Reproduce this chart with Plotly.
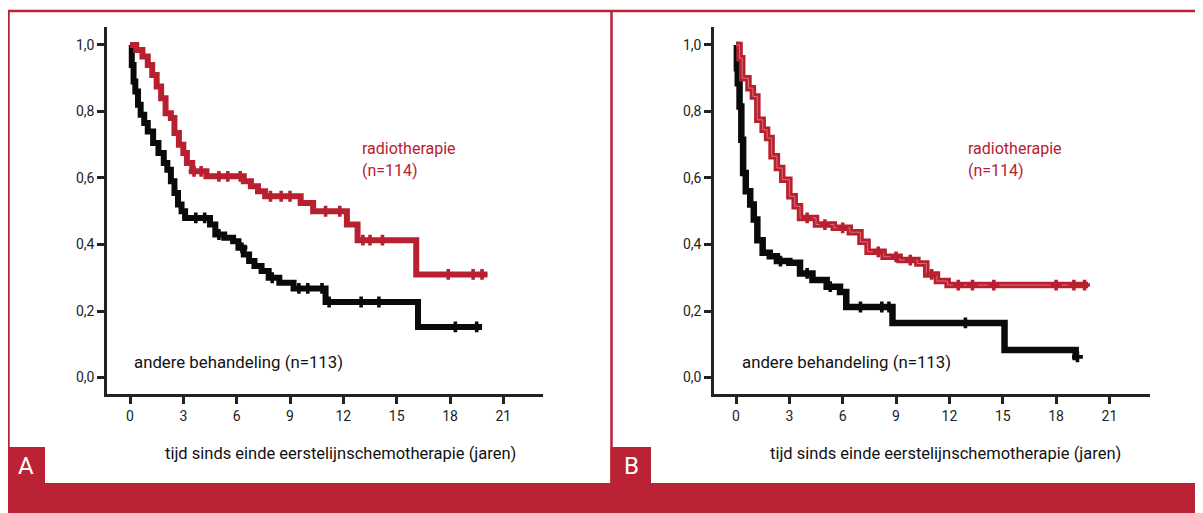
import plotly.graph_objects as go

# ---------------- data ----------------
# Panel A
a_radio_t = [0, 0.35, 0.7, 1.0, 1.25, 1.5, 1.75, 2.0, 2.3, 2.5, 2.75, 3.0, 3.2, 3.5, 4.3, 6.4, 6.8, 7.2, 7.6, 9.6, 10.3, 12.2, 12.8, 16.1]
a_radio_s = [1.0, 0.985, 0.965, 0.94, 0.91, 0.875, 0.84, 0.795, 0.78, 0.735, 0.70, 0.675, 0.645, 0.62, 0.605, 0.59, 0.575, 0.56, 0.545, 0.525, 0.50, 0.46, 0.413, 0.31]
a_radio_end = 20.1
a_radio_cens = [3.6, 4.0, 5.0, 5.5, 6.2, 7.9, 8.5, 9.0, 11.0, 11.8, 13.1, 13.5, 14.2, 17.9, 19.3, 19.8]

a_other_t = [0, 0.1, 0.2, 0.3, 0.45, 0.6, 0.8, 1.0, 1.3, 1.6, 1.9, 2.1, 2.3, 2.5, 2.7, 2.9, 3.1, 4.5, 4.8, 5.3, 5.8, 6.1, 6.4, 6.7, 7.0, 7.4, 7.8, 8.4, 9.2, 11.0, 16.2]
a_other_s = [1.0, 0.94, 0.89, 0.86, 0.82, 0.79, 0.765, 0.74, 0.705, 0.675, 0.645, 0.625, 0.59, 0.555, 0.52, 0.50, 0.48, 0.46, 0.43, 0.42, 0.41, 0.39, 0.37, 0.35, 0.335, 0.32, 0.30, 0.285, 0.268, 0.227, 0.152]
a_other_end = 19.8
a_other_cens = [3.7, 4.2, 5.0, 6.3, 8.0, 9.5, 10.0, 10.8, 11.2, 13.0, 14.0, 18.3, 19.5]

# Panel B
b_radio_t = [0, 0.2, 0.35, 0.7, 0.95, 1.2, 1.5, 1.75, 2.0, 2.3, 2.6, 3.0, 3.3, 3.6, 4.5, 5.5, 6.4, 7.0, 7.4, 8.3, 9.2, 10.2, 10.7, 11.3, 11.9]
b_radio_s = [1.0, 0.96, 0.90, 0.87, 0.845, 0.775, 0.745, 0.72, 0.665, 0.63, 0.595, 0.545, 0.515, 0.48, 0.46, 0.45, 0.437, 0.408, 0.378, 0.363, 0.353, 0.343, 0.31, 0.29, 0.278]
b_radio_end = 19.8
b_radio_cens = [4.0, 5.0, 6.0, 8.0, 9.0, 9.8, 11.0, 12.5, 13.3, 14.5, 18.0, 19.0, 19.6]

b_other_t = [0, 0.05, 0.1, 0.2, 0.3, 0.4, 0.55, 0.8, 1.0, 1.2, 1.5, 1.9, 2.3, 3.0, 3.6, 4.3, 5.1, 5.85, 6.2, 8.8, 15.1, 19.1]
b_other_s = [1.0, 0.93, 0.885, 0.815, 0.715, 0.615, 0.56, 0.52, 0.475, 0.413, 0.375, 0.365, 0.35, 0.345, 0.313, 0.293, 0.273, 0.257, 0.212, 0.164, 0.083, 0.062]
b_other_end = 19.2
b_other_cens = [2.5, 4.0, 5.3, 7.0, 8.2, 8.6, 12.9, 19.2]

y_ticks = [0.0, 0.2, 0.4, 0.6, 0.8, 1.0]
y_labels = ["0,0", "0,2", "0,4", "0,6", "0,8", "1,0"]
x_ticks = [0, 3, 6, 9, 12, 15, 18, 21]
x_labels = ["0", "3", "6", "9", "12", "15", "18", "21"]

label_radio = ["radiotherapie", "(n=114)"]
label_other = "andere behandeling (n=113)"
x_title = "tijd sinds einde eerstelijnschemotherapie (jaren)"
panel_letters = ["A", "B"]

# ---------------- style ----------------
RED = "#BB2235"
CURVE_RED = "#B8202F"
BLACK = "#0a0a0a"
AX = "#222222"
FONT = "Roboto, sans-serif"
W, H = 1203, 513
OFF = 8  # page body margin offset


def px(x):
    return (x - OFF) / W


def py(y):
    return 1 - (y - OFF) / H


def step_at(ts, ss, t):
    v = ss[0]
    for ti, si in zip(ts, ss):
        if ti <= t:
            v = si
    return v


fig = go.Figure()


def add_curve(ts, ss, end, cens, color, xa, ya, width, inner=None):
    xs = list(ts) + [end]
    ys = list(ss) + [ss[-1]]
    fig.add_trace(go.Scatter(x=xs, y=ys, mode="lines", line=dict(color=color, width=width, shape="hv"),
                             xaxis=xa, yaxis=ya, showlegend=False, hoverinfo="skip"))
    if inner:
        fig.add_trace(go.Scatter(x=xs, y=ys, mode="lines", line=dict(color=inner, width=1, shape="hv"),
                                 xaxis=xa, yaxis=ya, showlegend=False, hoverinfo="skip"))
    cy = [step_at(ts, ss, c) for c in cens]
    fig.add_trace(go.Scatter(x=cens, y=cy, mode="markers",
                             marker=dict(symbol="cross", size=9, color=color, line=dict(width=0)),
                             xaxis=xa, yaxis=ya, showlegend=False, hoverinfo="skip"))


add_curve(a_other_t, a_other_s, a_other_end, a_other_cens, BLACK, "x", "y", 6)
add_curve(a_radio_t, a_radio_s, a_radio_end, a_radio_cens, CURVE_RED, "x", "y", 6)
add_curve(b_other_t, b_other_s, b_other_end, b_other_cens, BLACK, "x2", "y2", 6.5)
add_curve(b_radio_t, b_radio_s, b_radio_end, b_radio_cens, CURVE_RED, "x2", "y2", 6.5,
          inner="rgba(225,120,130,0.9)")

ydom = [py(394), py(27)]
axis_common = dict(showline=True, linecolor=AX, linewidth=2.5, ticks="outside", ticklen=7, tickwidth=2.5,
                   tickcolor=AX, showgrid=False, zeroline=False,
                   tickfont=dict(family=FONT, size=14, color=AX))

fig.update_layout(
    width=W, height=H, margin=dict(l=0, r=0, t=0, b=0),
    paper_bgcolor="white", plot_bgcolor="white",
    xaxis=dict(domain=[px(107), px(543)], range=[-1.294, 23.23], anchor="y",
               tickvals=x_ticks, ticktext=x_labels, **axis_common),
    yaxis=dict(domain=ydom, range=[-0.0496, 1.054], anchor="x",
               tickvals=y_ticks, ticktext=y_labels, **axis_common),
    xaxis2=dict(domain=[px(714), px(1150)], range=[-1.237, 23.28], anchor="y2",
                tickvals=x_ticks, ticktext=x_labels, **axis_common),
    yaxis2=dict(domain=ydom, range=[-0.0496, 1.054], anchor="x2",
                tickvals=y_ticks, ticktext=y_labels, **axis_common),
)

# frame and red elements
shapes = [
    dict(type="rect", xref="paper", yref="paper", x0=px(7), x1=1.0, y0=0.0, y1=py(483),
         fillcolor=RED, line=dict(width=0), layer="above"),
    dict(type="rect", xref="paper", yref="paper", x0=px(7), x1=px(45), y0=py(484), y1=py(447),
         fillcolor=RED, line=dict(width=0), layer="above"),
    dict(type="rect", xref="paper", yref="paper", x0=px(610.5), x1=px(651), y0=py(484), y1=py(447),
         fillcolor=RED, line=dict(width=0), layer="above"),
    dict(type="line", xref="paper", yref="paper", x0=px(7), x1=1.0, y0=py(11), y1=py(11),
         line=dict(color=RED, width=2.5)),
    dict(type="line", xref="paper", yref="paper", x0=px(8.5), x1=px(8.5), y0=py(10), y1=py(484),
         line=dict(color=RED, width=2.5)),
    dict(type="line", xref="paper", yref="paper", x0=px(611.5), x1=px(611.5), y0=py(10), y1=py(484),
         line=dict(color=RED, width=2.5)),
]
fig.update_layout(shapes=shapes)

ann = []
for xr, xo in [(360, 132), (966, 740)]:
    ann.append(dict(xref="paper", yref="paper", x=px(xr), y=py(148), text=label_radio[0], showarrow=False,
                    xanchor="left", yanchor="middle", font=dict(family=FONT, size=16, color=CURVE_RED)))
    ann.append(dict(xref="paper", yref="paper", x=px(xr), y=py(170), text=label_radio[1], showarrow=False,
                    xanchor="left", yanchor="middle", font=dict(family=FONT, size=16, color=CURVE_RED)))
    ann.append(dict(xref="paper", yref="paper", x=px(xo), y=py(362), text=label_other, showarrow=False,
                    xanchor="left", yanchor="middle", font=dict(family=FONT, size=16.8, color="#111111")))
for xc in (340, 945):
    ann.append(dict(xref="paper", yref="paper", x=px(xc), y=py(453), text=x_title, showarrow=False,
                    xanchor="center", yanchor="middle", font=dict(family=FONT, size=16.5, color="#111111")))
ann.append(dict(xref="paper", yref="paper", x=px(26), y=py(466), text=panel_letters[0], showarrow=False,
                xanchor="center", yanchor="middle", font=dict(family=FONT, size=24, color="white")))
ann.append(dict(xref="paper", yref="paper", x=px(631), y=py(466), text=panel_letters[1], showarrow=False,
                xanchor="center", yanchor="middle", font=dict(family=FONT, size=24, color="white")))
fig.update_layout(annotations=ann)

fig.write_html("out.html")
